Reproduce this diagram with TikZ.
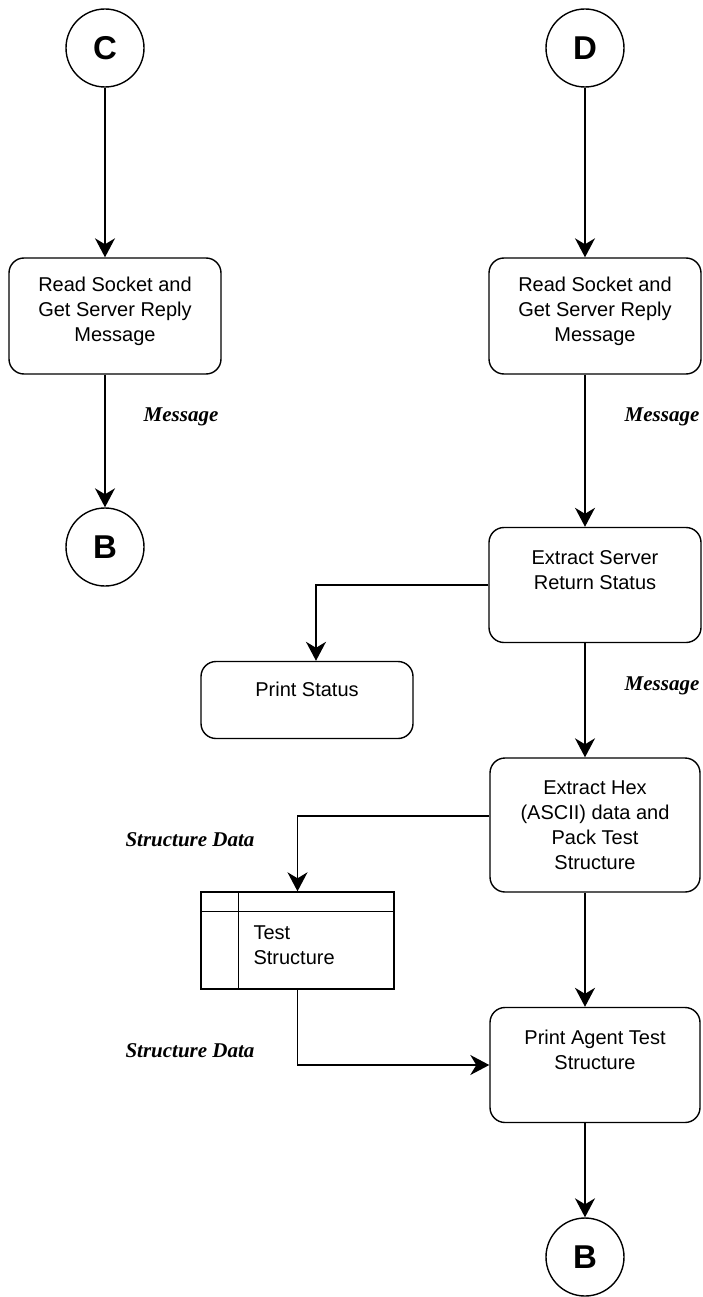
\documentclass[tikz,border=0pt]{standalone}
\usepackage{fontspec}
\setmainfont{Liberation Sans}
\newfontfamily\labelfont{Liberation Serif}
\usetikzlibrary{arrows.meta}

\tikzset{
  flow/.style={draw,line width=1.4pt,->,>={Stealth[length=19pt,width=20pt,inset=6pt]}},
  proc/.style={draw,line width=1.4pt,rounded corners=15pt,minimum width=212pt,minimum height=116pt,inner sep=0pt},
  conn/.style={draw,circle,line width=1.4pt,minimum size=78pt,inner sep=0pt,font=\fontsize{33}{33}\selectfont\bfseries},
  txt/.style={align=center,font=\fontsize{20}{25}\selectfont},
  flowlabel/.style={font=\labelfont\fontsize{21}{21}\selectfont\bfseries\itshape},
}

\begin{document}
\begin{tikzpicture}[x=1pt,y=-1pt]
\useasboundingbox (0,0) rectangle (702,1297);

\node[conn] (C) at (105,48) {C};% Entry C
\node[conn] (D) at (585,48) {D};% Entry D
\node[conn] (B1) at (105,547) {B};% Exit left
\node[conn] (B2) at (585,1257) {B};% Exit right

\node[proc] (RS1) at (115,316) {};
\node[txt] (RS1t) at (115,311) {Read Socket and\\Get Server Reply\\Message};
\node[proc] (RS2) at (595,316) {};
\node[txt] (RS2t) at (595,311) {Read Socket and\\Get Server Reply\\Message};
\node[proc,minimum height=115pt] (ES) at (595,585) {};
\node[txt] (ESt) at (595,570) {Extract Server\\Return Status};
\node[proc,minimum height=77pt] (PS) at (307,700) {};
\node[txt] (PSt) at (307,689) {Print Status};
\node[proc,minimum width=210pt,minimum height=134pt] (EH) at (595,825) {};
\node[txt] (EHt) at (595,825) {Extract Hex\\(ASCII) data and\\Pack Test\\Structure};
\node[proc,minimum width=210pt,minimum height=115pt] (PA) at (595,1065) {};
\node[txt] (PAt) at (595,1050) {Print Agent Test\\Structure};

\node[draw,line width=1.4pt,minimum width=193pt,minimum height=97pt,inner sep=0pt] (TS) at (297.5,940.5) {};% Data store
\draw[line width=1.4pt] ([yshift=-20pt]TS.north west) -- ([yshift=-20pt]TS.north east);
\draw[line width=1.4pt] ([xshift=38pt]TS.north west) -- ([xshift=38pt]TS.south west);
\node[txt,align=left,anchor=west] (TSt) at (250,945) {Test\\Structure};

\draw[flow] (C) -- (C |- RS1.north);
\draw[flow] (RS1.south -| C) -- (B1);
\draw[flow] (D) -- (D |- RS2.north);
\draw[flow] (RS2.south -| D) -- (D |- ES.north);
\draw[flow] (ES.west) -| ([xshift=9pt]PS.north);
\draw[flow] (ES.south -| D) -- (D |- EH.north);
\draw[flow] ([yshift=9pt]EH.west) -| (TS.north);
\draw[flow] (EH.south -| D) -- (D |- PA.north);
\draw[flow] (TS.south) |- (PA.west);
\draw[flow] (PA.south -| D) -- (B2);

\node[flowlabel] (m1) at (181,417) {Message};
\node[flowlabel] (m2) at (662,417) {Message};
\node[flowlabel] (m3) at (662,686) {Message};
\node[flowlabel] (sd1) at (190,840) {Structure Data};
\node[flowlabel] (sd2) at (190,1051) {Structure Data};
\end{tikzpicture}
\end{document}
